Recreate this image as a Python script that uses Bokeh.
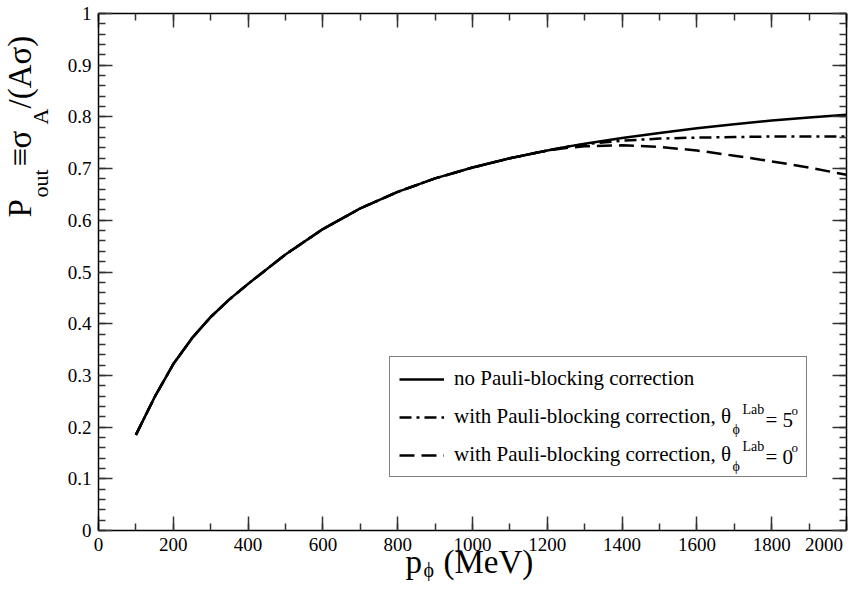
import math
from bokeh.plotting import figure
from bokeh.models import Label, Legend, LegendItem, LinearAxis, FixedTicker, Range1d
from bokeh.embed import file_html
from bokeh.resources import INLINE

# ---------------- data ----------------
p_mev = [100, 150, 200, 250, 300, 350, 400, 500, 600, 700, 800, 900, 1000,
         1100, 1200, 1250, 1300, 1400, 1500, 1600, 1700, 1800, 1900, 2000]
p_out_no_pauli = [0.185, 0.258, 0.322, 0.372, 0.413, 0.447, 0.477, 0.534, 0.583,
                  0.623, 0.655, 0.681, 0.702, 0.720, 0.735, 0.742, 0.748, 0.759,
                  0.769, 0.778, 0.786, 0.793, 0.799, 0.804]
p_out_pauli_5deg = [0.185, 0.258, 0.322, 0.372, 0.413, 0.447, 0.477, 0.534, 0.583,
                    0.623, 0.655, 0.681, 0.702, 0.720, 0.735, 0.742, 0.747, 0.754,
                    0.758, 0.760, 0.761, 0.762, 0.762, 0.762]
p_out_pauli_0deg = [0.185, 0.258, 0.322, 0.372, 0.413, 0.447, 0.477, 0.534, 0.583,
                    0.623, 0.655, 0.681, 0.702, 0.720, 0.735, 0.740, 0.743, 0.745,
                    0.742, 0.735, 0.725, 0.714, 0.702, 0.688]

x_major_ticks = [0, 200, 400, 600, 800, 1000, 1200, 1400, 1600, 1800, 2000]
x_minor_ticks = list(range(0, 2001, 100))
y_major_ticks = [0, 0.1, 0.2, 0.3, 0.4, 0.5, 0.6, 0.7, 0.8, 0.9, 1]
y_minor_ticks = [round(i * 0.02, 2) for i in range(0, 51)]
y_tick_labels = {0: "0", 0.1: "0.1", 0.2: "0.2", 0.3: "0.3", 0.4: "0.4", 0.5: "0.5",
                 0.6: "0.6", 0.7: "0.7", 0.8: "0.8", 0.9: "0.9", 1: "1"}
x_tick_labels = {2000: "2000" + "\u00a0" * 2}
x_min, x_max = 0, 2000
y_min, y_max = 0, 1

SERIF = "Liberation Serif"
PHI = "\u03d5"
W, H = 852, 581
# pixel position of the plotting box inside the canvas
BOX_L, BOX_R, BOX_T, BOX_B = 98, 846, 13, 530

sx = (BOX_R - BOX_L) / (x_max - x_min)
sy = (BOX_B - BOX_T) / (y_max - y_min)
x_range = Range1d(x_min - BOX_L / sx, x_max + (W - BOX_R) / sx)
y_range = Range1d(y_min - (H - BOX_B) / sy, y_max + BOX_T / sy)

p = figure(width=W, height=H, output_backend="svg", toolbar_location=None,
           x_range=x_range, y_range=y_range, min_border=0)
p.background_fill_color = "white"
p.border_fill_color = "white"
p.outline_line_color = None
p.xgrid.visible = False
p.ygrid.visible = False

def style_axis(ax, xaxis, show_labels, loc):
    ax.fixed_location = loc
    ax.bounds = (x_min, x_max) if xaxis else (y_min, y_max)
    ax.ticker = FixedTicker(ticks=x_major_ticks if xaxis else y_major_ticks,
                            minor_ticks=x_minor_ticks if xaxis else y_minor_ticks)
    ax.axis_line_color = "black"
    ax.axis_line_width = 1.5
    ax.major_tick_line_color = "#333333"
    ax.minor_tick_line_color = "#333333"
    ax.major_tick_line_width = 1.5
    ax.minor_tick_line_width = 1.5
    ax.major_tick_in = 14
    ax.major_tick_out = 0
    ax.minor_tick_in = 7
    ax.minor_tick_out = 0
    ax.major_label_text_font = SERIF
    ax.axis_label = None
    if show_labels:
        ax.major_label_text_color = "black"
        ax.major_label_text_font_size = "19px"
        ax.major_label_standoff = 3 if xaxis else 7
    else:
        ax.major_label_text_color = None
        ax.major_label_text_font_size = "1px"
        ax.major_label_standoff = 0

style_axis(p.xaxis[0], True, True, y_min)
style_axis(p.yaxis[0], False, True, x_min)
p.xaxis[0].major_label_overrides = x_tick_labels
p.yaxis[0].major_label_overrides = y_tick_labels

top_ax = LinearAxis()
right_ax = LinearAxis()
style_axis(top_ax, True, False, y_max)
style_axis(right_ax, False, False, x_max)
p.add_layout(top_ax, "above")
p.add_layout(right_ax, "right")

# ---------------- curves ----------------
r_solid = p.line(p_mev, p_out_no_pauli, line_color="black", line_width=2.5)
r_dd = p.line(p_mev, p_out_pauli_5deg, line_color="black", line_width=2.5,
              line_dash="12 5 3 5")
r_dash = p.line(p_mev, p_out_pauli_0deg, line_color="black", line_width=2.5,
                line_dash="15 7")

# ---------------- legend ----------------
LEG_L, LEG_B = 389, 477          # canvas pixels (left, bottom) of the legend box
legend = Legend(items=[
    LegendItem(label="no Pauli-blocking correction", renderers=[r_solid]),
    LegendItem(label="with Pauli-blocking correction, \u03b8", renderers=[r_dd]),
    LegendItem(label="with Pauli-blocking correction, \u03b8", renderers=[r_dash]),
], location=(LEG_L, H - LEG_B))
legend.label_text_font = SERIF
legend.label_text_font_size = "21px"
legend.label_text_color = "black"
legend.border_line_color = "black"
legend.border_line_width = 1.5
legend.background_fill_alpha = 0.0
legend.padding = 9
legend.margin = 0
legend.glyph_width = 45
legend.glyph_height = 24
legend.label_height = 24
legend.label_width = 343
legend.label_standoff = 10
legend.spacing = 13
p.add_layout(legend, "center")

def mid_offset(fs):
    # distance between alphabetic baseline and the middle of the font box
    return 0.34 * fs

legend_h = 2 * 9 + 3 * 24 + 2 * 13
row_centers = [(H - LEG_B) + legend_h - 9 - 12 - i * 37 for i in range(3)]
angles_deg = ["5", "0"]
for i, ang in zip([1, 2], angles_deg):
    cy = row_centers[i]
    # (text, x, baseline offset above the row centre, font px)
    parts = [(PHI, 732, -15, 14),
             ("Lab", 742, 5, 14),
             ("= " + ang, 765, None, 21),
             ("o", 791, 5, 13)]
    for txt, lx, off, fs in parts:
        ly = cy if off is None else cy + off + mid_offset(fs)
        p.add_layout(Label(x=lx, y=ly, x_units="screen", y_units="screen", text=txt,
                           text_font=SERIF, text_font_size=f"{fs}px",
                           text_baseline="middle", text_color="black", level="overlay"))

# ---------------- y axis title (rotated, with subscripts) ----------------
# (text, canvas y where the text starts, font px, canvas x of baseline)
ylab_parts = [("P", 217, 33, 31), ("out", 197, 22, 47), ("\u2261", 166, 33, 31),
              ("\u03c3", 148, 33, 31), ("A", 124, 22, 47), ("/(A\u03c3)", 108, 33, 31)]
for txt, ystart, fs, xbase in ylab_parts:
    p.add_layout(Label(x=xbase - mid_offset(fs), y=H - ystart, x_units="screen",
                       y_units="screen", text=txt, text_font=SERIF,
                       text_font_size=f"{fs}px", angle=math.pi / 2, text_align="left",
                       text_baseline="middle", text_color="black"))

# ---------------- x axis title ----------------
# (text, canvas x where it starts, canvas y of baseline, font px)
xlab_parts = [("p", 405, 573, 33), (PHI, 423, 576, 20), ("(MeV)", 443, 573, 33)]
for txt, xstart, ybase, fs in xlab_parts:
    p.add_layout(Label(x=xstart, y=H - ybase + mid_offset(fs), x_units="screen",
                       y_units="screen", text=txt, text_font=SERIF,
                       text_font_size=f"{fs}px", text_baseline="middle",
                       text_color="black"))

open("out.html", "w").write(file_html(p, INLINE))
